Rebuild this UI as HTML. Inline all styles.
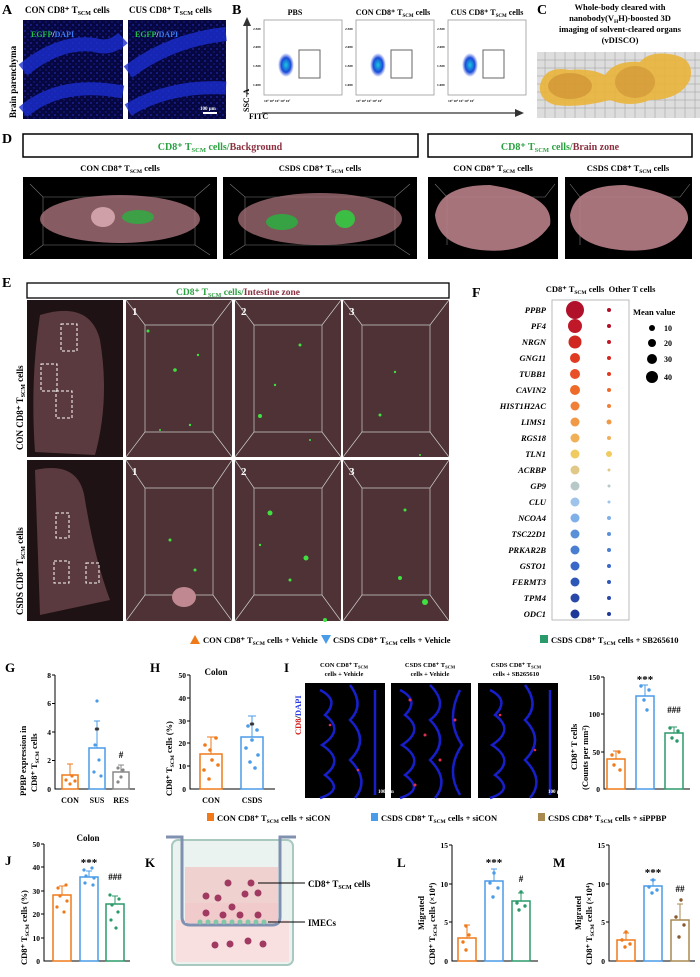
<!DOCTYPE html>
<html><head><meta charset="utf-8"><style>
html,body{margin:0;padding:0;background:#fff}
svg{display:block}
text{font-family:"Liberation Serif",serif;font-weight:bold}
</style></head><body>
<svg width="700" height="977" viewBox="0 0 700 977" xmlns="http://www.w3.org/2000/svg">
<defs>
<radialGradient id="blob" cx="50%" cy="50%" r="50%"><stop offset="0" stop-color="#19c8e0"/><stop offset="0.6" stop-color="#1a4ad8"/><stop offset="1" stop-color="#3050e0" stop-opacity="0"/></radialGradient>
<pattern id="spk" width="6" height="6" patternUnits="userSpaceOnUse"><circle cx="1" cy="1" r="0.7" fill="#2a3ad8"/><circle cx="4" cy="4" r="0.6" fill="#2030c0"/></pattern>
</defs>
<!-- A -->
<text x="2" y="14" font-size="14">A</text>
<text x="25" y="13" font-size="9">CON CD8⁺ T<tspan font-size="6" dy="2">SCM</tspan><tspan dy="-2"> cells</tspan></text>
<text x="129" y="13" font-size="9">CUS CD8⁺ T<tspan font-size="6" dy="2">SCM</tspan><tspan dy="-2"> cells</tspan></text>
<text transform="translate(16,118) rotate(-90)" font-size="9">Brain parenchyma</text>
<rect x="23" y="20" width="100" height="99" fill="#060640"/>
<rect x="128" y="20" width="98" height="99" fill="#060640"/>
<rect x="23" y="20" width="100" height="99" fill="url(#spk)"/>
<rect x="128" y="20" width="98" height="99" fill="url(#spk)"/>
<path d="M23,70 Q60,40 95,45 Q110,50 123,38" stroke="#1a2ed0" stroke-width="14" fill="none" opacity="0.8"/>
<path d="M23,112 Q60,80 123,92" stroke="#1a2ed0" stroke-width="13" fill="none" opacity="0.8"/>
<path d="M128,72 Q170,40 226,34" stroke="#1a2ed0" stroke-width="14" fill="none" opacity="0.8"/>
<path d="M128,110 Q170,85 226,88" stroke="#1a2ed0" stroke-width="13" fill="none" opacity="0.8"/>
<text x="31" y="37" font-size="8" font-weight="normal" fill="#22c04a">EGFP<tspan fill="#fff">/</tspan><tspan fill="#3a7af0">DAPI</tspan></text>
<text x="135" y="37" font-size="8" font-weight="normal" fill="#22c04a">EGFP<tspan fill="#fff">/</tspan><tspan fill="#3a7af0">DAPI</tspan></text>
<text x="200" y="110" font-size="5" fill="#fff">100 μm</text>
<rect x="203" y="112" width="14" height="2" fill="#fff"/>
<!-- B -->
<text x="232" y="14" font-size="14">B</text>
<line x1="247" y1="95" x2="247" y2="22" stroke="#333" stroke-width="1.3"/>
<path d="M243,26 L247,17 L251,26 Z" fill="#333"/>
<line x1="262" y1="113" x2="518" y2="113" stroke="#333" stroke-width="1.3"/>
<path d="M515,109 L524,113 L515,117 Z" fill="#333"/>
<text transform="translate(249,112) rotate(-90)" font-size="8">SSC-A</text>
<text x="249" y="119" font-size="8">FITC</text>
<g font-size="8">
<text x="295" y="15" text-anchor="middle">PBS</text>
<text x="393" y="15" text-anchor="middle">CON CD8⁺ T<tspan font-size="5" dy="2">SCM</tspan><tspan dy="-2"> cells</tspan></text>
<text x="487" y="15" text-anchor="middle">CUS CD8⁺ T<tspan font-size="5" dy="2">SCM</tspan><tspan dy="-2"> cells</tspan></text>
</g>
<g id="fc">
<rect x="264" y="20" width="78" height="75" fill="#fff" stroke="#999" stroke-width="0.8"/>
<ellipse cx="286" cy="65" rx="8" ry="12" fill="url(#blob)"/>
<rect x="299" y="50" width="21" height="28" fill="none" stroke="#666" stroke-width="1"/>
<text x="264" y="102" font-size="3.5" font-weight="normal">10³  10⁴     10⁵      10⁶      10⁷</text>
</g>
<use href="#fc" x="92"/><use href="#fc" x="184"/>
<g font-size="3.5" font-weight="normal">
<text x="253" y="30">2.5M</text><text x="253" y="48">2.0M</text><text x="253" y="67">1.5M</text><text x="253" y="86">1.0M</text>
<text x="345" y="30">2.5M</text><text x="345" y="48">2.0M</text><text x="345" y="67">1.5M</text><text x="345" y="86">1.0M</text>
<text x="437" y="30">2.5M</text><text x="437" y="48">2.0M</text><text x="437" y="67">1.5M</text><text x="437" y="86">1.0M</text>
</g>
<!-- C -->
<text x="537" y="14" font-size="14">C</text>
<g font-size="8.5" text-anchor="middle">
<text x="620" y="10">Whole-body cleared with</text>
<text x="620" y="21">nanobody(V<tspan font-size="5.5" dy="2">H</tspan><tspan dy="-2">H)-boosted 3D</tspan></text>
<text x="620" y="32">imaging of solvent-cleared organs</text>
<text x="620" y="43">(vDISCO)</text>
</g>
<rect x="537" y="52" width="163" height="66" fill="#ddd"/>
<g stroke="#555" stroke-width="0.4" opacity="0.6">
<path d="M537,60H700M537,68H700M537,76H700M537,84H700M537,92H700M537,100H700M537,108H700M545,52V118M555,52V118M565,52V118M575,52V118M585,52V118M595,52V118M605,52V118M615,52V118M625,52V118M635,52V118M645,52V118M655,52V118M665,52V118M675,52V118M685,52V118M695,52V118"/>
</g>
<path d="M540,85 Q545,65 570,70 Q590,68 605,75 Q615,60 640,62 Q650,50 675,55 Q695,60 690,80 Q680,100 650,100 Q630,108 610,100 Q580,108 555,105 Q538,100 540,85 Z" fill="#e9b43a" opacity="0.9"/>
<ellipse cx="570" cy="86" rx="22" ry="13" fill="#c98a30" opacity="0.6"/>
<ellipse cx="635" cy="82" rx="20" ry="16" fill="#c98a30" opacity="0.5"/>
<!-- D -->
<text x="2" y="143" font-size="14">D</text>
<rect x="23" y="134" width="395" height="23" fill="#fff" stroke="#000" stroke-width="1.5"/>
<rect x="428" y="134" width="264" height="23" fill="#fff" stroke="#000" stroke-width="1.5"/>
<text x="220" y="150" font-size="10" text-anchor="middle" fill="#2aa040">CD8⁺ T<tspan font-size="6.5" dy="2">SCM</tspan><tspan dy="-2"> cells/</tspan><tspan fill="#8a3040">Background</tspan></text>
<text x="560" y="150" font-size="10" text-anchor="middle" fill="#2aa040">CD8⁺ T<tspan font-size="6.5" dy="2">SCM</tspan><tspan dy="-2"> cells/</tspan><tspan fill="#8a3040">Brain zone</tspan></text>
<g font-size="8.5" text-anchor="middle">
<text x="120" y="171">CON CD8⁺ T<tspan font-size="5.5" dy="2">SCM</tspan><tspan dy="-2"> cells</tspan></text>
<text x="320" y="171">CSDS CD8⁺ T<tspan font-size="5.5" dy="2">SCM</tspan><tspan dy="-2"> cells</tspan></text>
<text x="493" y="171">CON CD8⁺ T<tspan font-size="5.5" dy="2">SCM</tspan><tspan dy="-2"> cells</tspan></text>
<text x="628" y="171">CSDS CD8⁺ T<tspan font-size="5.5" dy="2">SCM</tspan><tspan dy="-2"> cells</tspan></text>
</g>
<rect x="23" y="177" width="194" height="82" fill="#000"/>
<rect x="223" y="177" width="194" height="82" fill="#000"/>
<rect x="428" y="177" width="130" height="82" fill="#000"/>
<rect x="565" y="177" width="127" height="82" fill="#000"/>
<g stroke="#777" stroke-width="0.6" fill="none">
<path d="M30,184 L43,197 H195 L210,184 M43,197 V245 H195 V197 M43,245 L30,255 M195,245 L210,255"/>
<path d="M230,184 L245,197 H395 L410,184 M245,197 V245 H395 V197 M245,245 L230,255 M395,245 L410,255"/>
<path d="M435,184 L447,197 H545 L555,184 M447,197 V245"/>
<path d="M570,184 L580,197 H680 L690,184 M580,197 V245"/>
</g>
<ellipse cx="120" cy="219" rx="80" ry="24" fill="#a8727a" opacity="0.8"/>
<ellipse cx="320" cy="219" rx="82" ry="26" fill="#a8727a" opacity="0.75"/>
<ellipse cx="103" cy="217" rx="12" ry="10" fill="#d0a0a8"/>
<ellipse cx="138" cy="217" rx="16" ry="7" fill="#2ab040" opacity="0.8"/>
<ellipse cx="282" cy="222" rx="16" ry="8" fill="#2ab040" opacity="0.85"/>
<ellipse cx="345" cy="219" rx="10" ry="9" fill="#30d040" opacity="0.85"/>
<path d="M435,215 Q440,185 490,185 Q555,195 550,225 Q530,255 480,250 Q438,245 435,215 Z" fill="#b88088" opacity="0.9"/>
<path d="M570,215 Q575,185 625,185 Q690,195 688,220 Q675,255 620,250 Q572,245 570,215 Z" fill="#b88088" opacity="0.9"/>
<!-- E -->
<text x="2" y="287" font-size="14">E</text>
<rect x="27" y="283" width="422" height="15" fill="#fff" stroke="#000" stroke-width="1.3"/>
<text x="238" y="295" font-size="9.5" text-anchor="middle" fill="#2aa040">CD8⁺ T<tspan font-size="6" dy="2">SCM</tspan><tspan dy="-2"> cells/</tspan><tspan fill="#8a3040">Intestine zone</tspan></text>
<g fill="#4e3236">
<rect x="27" y="300" width="96" height="157" fill="#1e1214"/>
<rect x="126" y="300" width="106" height="157"/>
<rect x="235" y="300" width="106" height="157"/>
<rect x="343" y="300" width="106" height="157"/>
<rect x="27" y="460" width="96" height="161" fill="#1e1214"/>
<rect x="126" y="460" width="106" height="161"/>
<rect x="235" y="460" width="106" height="161"/>
<rect x="343" y="460" width="106" height="161"/>
</g>
<path d="M40,315 Q90,300 100,340 Q110,400 95,455 L35,452 Q30,380 40,315 Z" fill="#5a3a3e"/>
<path d="M35,470 Q80,460 85,500 Q95,560 110,600 L40,615 Z" fill="#5a3a3e"/>
<g stroke="#ccc" stroke-width="0.7" fill="none">
<path d="M126,300 L145,325 H213 L232,300 M145,325 V432 H213 V325 M145,432 L126,457 M213,432 L232,457"/>
<path d="M235,300 L254,325 H322 L341,300 M254,325 V432 H322 V325 M254,432 L235,457 M322,432 L341,457"/>
<path d="M343,300 L362,325 H430 L449,300 M362,325 V432 H430 V325 M362,432 L343,457 M430,432 L449,457"/>
<path d="M126,460 L145,488 H213 L232,460 M145,488 V595 H213 V488 M145,595 L126,621 M213,595 L232,621"/>
<path d="M235,460 L254,488 H322 L341,460 M254,488 V595 H322 V488 M254,595 L235,621 M322,595 L341,621"/>
<path d="M343,460 L362,488 H430 L449,460 M362,488 V595 H430 V488 M362,595 L343,621 M430,595 L449,621"/>
</g>
<g stroke="#fff" stroke-width="1" stroke-dasharray="3,2" fill="none">
<rect x="61" y="324" width="16" height="27"/><rect x="41" y="364" width="16" height="27"/><rect x="56" y="391" width="16" height="27"/>
<rect x="56" y="513" width="13" height="25"/><rect x="54" y="561" width="15" height="22"/><rect x="86" y="563" width="13" height="20"/>
</g>
<ellipse cx="184" cy="597" rx="12" ry="10" fill="#c08890"/>
<g fill="#40e040">
<circle cx="148" cy="331" r="1.5"/><circle cx="175" cy="370" r="1.8"/><circle cx="160" cy="430" r="1"/><circle cx="260" cy="416" r="2"/><circle cx="300" cy="345" r="1.5"/><circle cx="310" cy="440" r="1"/><circle cx="380" cy="415" r="1.5"/><circle cx="420" cy="455" r="1"/><circle cx="198" cy="355" r="1.2"/><circle cx="190" cy="425" r="1.2"/><circle cx="275" cy="385" r="1.2"/><circle cx="395" cy="372" r="1.2"/>
<circle cx="170" cy="540" r="1.5"/><circle cx="195" cy="570" r="1.5"/><circle cx="270" cy="513" r="2.5"/><circle cx="306" cy="558" r="2.5"/><circle cx="325" cy="620" r="2"/><circle cx="400" cy="578" r="2"/><circle cx="425" cy="602" r="3"/><circle cx="290" cy="580" r="1.5"/><circle cx="260" cy="545" r="1.2"/><circle cx="405" cy="510" r="1.5"/>
</g>
<g font-size="11" fill="#fff"><text x="132" y="315">1</text><text x="241" y="315">2</text><text x="349" y="315">3</text><text x="132" y="475">1</text><text x="241" y="475">2</text><text x="349" y="475">3</text></g>
<text transform="translate(23,450) rotate(-90)" font-size="9">CON CD8⁺ T<tspan font-size="6" dy="2">SCM</tspan><tspan dy="-2"> cells</tspan></text>
<text transform="translate(23,615) rotate(-90)" font-size="9">CSDS CD8⁺ T<tspan font-size="6" dy="2">SCM</tspan><tspan dy="-2"> cells</tspan></text>
<!-- F -->
<text x="472" y="297" font-size="14">F</text>
<text x="575" y="292" font-size="8.5" text-anchor="middle">CD8⁺ T<tspan font-size="5.5" dy="2">SCM</tspan><tspan dy="-2"> cells</tspan></text>
<text x="632" y="292" font-size="8.5" text-anchor="middle">Other T cells</text>
<rect x="552" y="300" width="77" height="320" fill="#fff" stroke="#aaa" stroke-width="0.8"/>
<g font-size="8.5" font-style="italic" text-anchor="end">
<text x="546" y="313">PPBP</text><text x="546" y="329">PF4</text><text x="546" y="345">NRGN</text><text x="546" y="361">GNG11</text><text x="546" y="377">TUBB1</text><text x="546" y="393">CAVIN2</text><text x="546" y="409">HIST1H2AC</text><text x="546" y="425">LIMS1</text><text x="546" y="441">RGS18</text><text x="546" y="457">TLN1</text><text x="546" y="473">ACRBP</text><text x="546" y="489">GP9</text><text x="546" y="505">CLU</text><text x="546" y="521">NCOA4</text><text x="546" y="537">TSC22D1</text><text x="546" y="553">PRKAR2B</text><text x="546" y="569">GSTO1</text><text x="546" y="585">FERMT3</text><text x="546" y="601">TPM4</text><text x="546" y="617">ODC1</text>
</g>
<g>
<circle cx="575" cy="310" r="9" fill="#b0102a"/><circle cx="575" cy="326" r="7" fill="#c01828"/><circle cx="575" cy="342" r="6.5" fill="#d02820"/><circle cx="575" cy="358" r="5" fill="#e03a20"/><circle cx="575" cy="374" r="5" fill="#e85028"/><circle cx="575" cy="390" r="5" fill="#ee6a28"/><circle cx="575" cy="406" r="4.5" fill="#f08038"/><circle cx="575" cy="422" r="4.5" fill="#f09a48"/><circle cx="575" cy="438" r="4.5" fill="#f0b058"/><circle cx="575" cy="454" r="4.5" fill="#f0cc60"/><circle cx="575" cy="470" r="4.5" fill="#e0c888"/><circle cx="575" cy="486" r="4.5" fill="#b8c8c8"/><circle cx="575" cy="502" r="4.5" fill="#9ec4ec"/><circle cx="575" cy="518" r="4.5" fill="#80b0e8"/><circle cx="575" cy="534" r="4.5" fill="#5a90d8"/><circle cx="575" cy="550" r="4.5" fill="#4a7ed0"/><circle cx="575" cy="566" r="4.5" fill="#3a68c8"/><circle cx="575" cy="582" r="4.5" fill="#2e58b8"/><circle cx="575" cy="598" r="4.5" fill="#2a48a8"/><circle cx="575" cy="614" r="4.5" fill="#1e3a98"/>
</g>
<g>
<circle cx="609" cy="326" r="2" fill="#b0102a"/><circle cx="609" cy="342" r="2" fill="#c01828"/><circle cx="609" cy="358" r="2" fill="#d02820"/><circle cx="609" cy="374" r="2" fill="#e03a20"/><circle cx="609" cy="390" r="2" fill="#ee6a28"/><circle cx="609" cy="406" r="2" fill="#f08038"/><circle cx="609" cy="422" r="2.5" fill="#f09a48"/><circle cx="609" cy="438" r="2" fill="#f0b058"/><circle cx="609" cy="454" r="3" fill="#f0cc60"/><circle cx="609" cy="470" r="1.5" fill="#e0c888"/><circle cx="609" cy="486" r="1.5" fill="#b8c8c8"/><circle cx="609" cy="502" r="1.5" fill="#9ec4ec"/><circle cx="609" cy="518" r="2" fill="#80b0e8"/><circle cx="609" cy="534" r="2" fill="#5a90d8"/><circle cx="609" cy="550" r="2" fill="#4a7ed0"/><circle cx="609" cy="566" r="2" fill="#3a68c8"/><circle cx="609" cy="582" r="2" fill="#2e58b8"/><circle cx="609" cy="598" r="2" fill="#2a48a8"/><circle cx="609" cy="614" r="2" fill="#1e3a98"/><circle cx="609" cy="310" r="2" fill="#b0102a"/>
</g>
<text x="633" y="315" font-size="8.5">Mean value</text>
<g><circle cx="652" cy="328" r="3" fill="#000"/><circle cx="652" cy="343" r="4" fill="#000"/><circle cx="652" cy="359" r="5" fill="#000"/><circle cx="652" cy="377" r="6" fill="#000"/></g>
<g font-size="8"><text x="664" y="331">10</text><text x="664" y="346">20</text><text x="664" y="362">30</text><text x="664" y="380">40</text></g>
<!-- legend 1 -->
<path d="M190,644 L195,635 L200,644 Z" fill="#f07a1a"/>
<text x="203" y="643" font-size="8.5">CON CD8⁺ T<tspan font-size="5.5" dy="2">SCM</tspan><tspan dy="-2"> cells + Vehicle</tspan></text>
<path d="M321,635 L331,635 L326,644 Z" fill="#4a9be8"/>
<text x="333" y="643" font-size="8.5">CSDS CD8⁺ T<tspan font-size="5.5" dy="2">SCM</tspan><tspan dy="-2"> cells + Vehicle</tspan></text>
<rect x="540" y="635" width="8" height="8" fill="#2a9a6a"/>
<text x="551" y="643" font-size="8.5">CSDS CD8⁺ T<tspan font-size="5.5" dy="2">SCM</tspan><tspan dy="-2"> cells + SB265610</tspan></text>
<!-- G -->
<text x="5" y="672" font-size="13">G</text>
<g stroke="#000" stroke-width="1" fill="none"><path d="M55,675 V789 H135 M52,675H55 M52,703.5H55 M52,732H55 M52,760.5H55"/></g>
<g font-size="7.5" text-anchor="end"><text x="51" y="678">8</text><text x="51" y="706">6</text><text x="51" y="735">4</text><text x="51" y="763">2</text><text x="51" y="792">0</text></g>
<text transform="translate(26,796) rotate(-90)" font-size="8.5">PPBP expression in</text>
<text transform="translate(37,792) rotate(-90)" font-size="8.5">CD8⁺ T<tspan font-size="5.5" dy="2">SCM</tspan><tspan dy="-2"> cells</tspan></text>
<rect x="62" y="775" width="16" height="14" fill="none" stroke="#f07a1a" stroke-width="1.5"/>
<rect x="89" y="748" width="16" height="41" fill="none" stroke="#4a9be8" stroke-width="1.5"/>
<rect x="113" y="772" width="16" height="17" fill="none" stroke="#888" stroke-width="1.5"/>
<g stroke-width="1" fill="none"><path d="M70,775V764M67,764H73" stroke="#f07a1a"/><path d="M97,748V721M94,721H100" stroke="#4a9be8"/><path d="M121,772V765M118,765H124" stroke="#888"/></g>
<g fill="#f07a1a"><circle cx="66" cy="780" r="1.6"/><circle cx="72" cy="776" r="1.6"/><circle cx="70" cy="784" r="1.6"/><circle cx="75" cy="781" r="1.6"/></g>
<g fill="#4a9be8"><circle cx="97" cy="701" r="1.6"/><circle cx="95" cy="745" r="1.6"/><circle cx="99" cy="760" r="1.6"/><circle cx="94" cy="772" r="1.6"/><circle cx="101" cy="776" r="1.6"/></g>
<g fill="#888"><circle cx="118" cy="768" r="1.6"/><circle cx="123" cy="770" r="1.6"/><circle cx="121" cy="777" r="1.6"/><circle cx="118" cy="782" r="1.6"/></g>
<g font-size="11" text-anchor="middle"><text x="97" y="734">*</text><text x="121" y="758" font-size="9">#</text></g>
<g font-size="8" text-anchor="middle"><text x="70" y="803">CON</text><text x="97" y="803">SUS</text><text x="121" y="803">RES</text></g>
<!-- H -->
<text x="150" y="672" font-size="13">H</text>
<text x="216" y="675" font-size="9" text-anchor="middle">Colon</text>
<g stroke="#000" stroke-width="1" fill="none"><path d="M190,675 V789 H275 M187,675H190 M187,698H190 M187,721H190 M187,743H190 M187,766H190"/></g>
<g font-size="7.5" text-anchor="end"><text x="186" y="678">50</text><text x="186" y="701">40</text><text x="186" y="724">30</text><text x="186" y="746">20</text><text x="186" y="769">10</text><text x="186" y="792">0</text></g>
<text transform="translate(172,796) rotate(-90)" font-size="8.5">CD8⁺ T<tspan font-size="5.5" dy="2">SCM</tspan><tspan dy="-2"> cells (%)</tspan></text>
<rect x="200" y="754" width="22" height="35" fill="none" stroke="#f07a1a" stroke-width="1.5"/>
<rect x="241" y="737" width="22" height="52" fill="none" stroke="#4a9be8" stroke-width="1.5"/>
<g stroke-width="1" fill="none"><path d="M211,754V737M207,737H215" stroke="#f07a1a"/><path d="M252,737V716M248,716H256" stroke="#4a9be8"/></g>
<g fill="#f07a1a"><circle cx="205" cy="745" r="1.8"/><circle cx="216" cy="738" r="1.8"/><circle cx="210" cy="750" r="1.8"/><circle cx="212" cy="760" r="1.8"/><circle cx="204" cy="770" r="1.8"/><circle cx="218" cy="765" r="1.8"/><circle cx="209" cy="779" r="1.8"/></g>
<g fill="#4a9be8"><circle cx="248" cy="726" r="1.8"/><circle cx="257" cy="730" r="1.8"/><circle cx="252" cy="740" r="1.8"/><circle cx="246" cy="748" r="1.8"/><circle cx="258" cy="755" r="1.8"/><circle cx="250" cy="762" r="1.8"/><circle cx="255" cy="768" r="1.8"/></g>
<text x="252" y="729" font-size="11" text-anchor="middle">*</text>
<g font-size="8" text-anchor="middle"><text x="211" y="803">CON</text><text x="252" y="803">CSDS</text></g>
<!-- I -->
<text x="284" y="672" font-size="13">I</text>
<g font-size="6.5" text-anchor="middle">
<text x="344" y="667">CON CD8⁺ T<tspan font-size="4.5" dy="1.5">SCM</tspan></text><text x="344" y="676">cells + Vehicle</text>
<text x="430" y="667">CSDS CD8⁺ T<tspan font-size="4.5" dy="1.5">SCM</tspan></text><text x="430" y="676">cells + Vehicle</text>
<text x="516" y="667">CSDS CD8⁺ T<tspan font-size="4.5" dy="1.5">SCM</tspan></text><text x="516" y="676">cells + SB265610</text>
</g>
<rect x="305" y="683" width="80" height="115" fill="#000"/>
<rect x="391" y="683" width="80" height="115" fill="#000"/>
<rect x="478" y="683" width="80" height="115" fill="#000"/>
<g stroke="#1a22e0" stroke-width="2.5" fill="none" opacity="0.9">
<path d="M320,690 Q340,700 325,715 Q345,730 322,745 Q345,760 325,775 Q345,790 320,798 M350,685 Q365,705 350,720 Q370,740 350,760 Q370,780 355,798 M375,690 V795"/>
<path d="M400,690 Q420,700 405,715 Q425,730 402,745 Q425,760 405,775 Q425,790 400,798 M430,685 Q450,705 430,720 Q450,740 430,760 Q450,780 435,798 M460,690 Q445,720 462,745 Q445,770 460,795"/>
<path d="M490,690 Q510,700 495,715 Q515,730 492,745 Q515,760 495,775 Q515,790 490,798 M525,685 Q540,705 525,720 Q545,740 525,760 Q545,780 530,798 M550,690 V795"/>
</g>
<g fill="#e03050"><circle cx="330" cy="725" r="1.3"/><circle cx="358" cy="770" r="1.3"/><circle cx="410" cy="700" r="1.5"/><circle cx="425" cy="735" r="1.5"/><circle cx="440" cy="760" r="1.5"/><circle cx="415" cy="785" r="1.5"/><circle cx="455" cy="720" r="1.5"/><circle cx="500" cy="715" r="1.3"/><circle cx="535" cy="750" r="1.3"/></g>
<text x="378" y="793" font-size="5" fill="#fff">100 μm</text>
<text x="548" y="793" font-size="5" fill="#fff">100 μm</text>
<text transform="translate(301,735) rotate(-90)" font-size="8.5" fill="#d02020">CD8<tspan fill="#000">/</tspan><tspan fill="#2a3ae0">DAPI</tspan></text>
<g stroke="#000" stroke-width="1" fill="none"><path d="M604,677 V789 H690 M601,677H604 M601,714H604 M601,752H604"/></g>
<g font-size="7.5" text-anchor="end"><text x="600" y="680">150</text><text x="600" y="717">100</text><text x="600" y="755">50</text><text x="600" y="792">0</text></g>
<text transform="translate(577,770) rotate(-90)" font-size="8.5">CD8⁺ T cells</text>
<text transform="translate(588,790) rotate(-90)" font-size="8.5">(Counts per mm²)</text>
<rect x="607" y="759" width="18" height="30" fill="none" stroke="#f07a1a" stroke-width="1.5"/>
<rect x="636" y="696" width="18" height="93" fill="none" stroke="#4a9be8" stroke-width="1.5"/>
<rect x="665" y="733" width="18" height="56" fill="none" stroke="#2a9a6a" stroke-width="1.5"/>
<g stroke-width="1" fill="none"><path d="M616,759V751M613,751H619" stroke="#f07a1a"/><path d="M645,696V685M642,685H648" stroke="#4a9be8"/><path d="M674,733V727M671,727H677" stroke="#2a9a6a"/></g>
<g fill="#f07a1a"><circle cx="612" cy="755" r="1.7"/><circle cx="619" cy="752" r="1.7"/><circle cx="614" cy="765" r="1.7"/><circle cx="620" cy="770" r="1.7"/></g>
<g fill="#4a9be8"><circle cx="641" cy="686" r="1.7"/><circle cx="649" cy="690" r="1.7"/><circle cx="644" cy="700" r="1.7"/><circle cx="647" cy="710" r="1.7"/></g>
<g fill="#2a9a6a"><circle cx="670" cy="728" r="1.7"/><circle cx="678" cy="731" r="1.7"/><circle cx="672" cy="738" r="1.7"/><circle cx="677" cy="741" r="1.7"/></g>
<g font-size="11" text-anchor="middle"><text x="645" y="683">***</text><text x="674" y="713" font-size="9">###</text></g>
<!-- legend 2 -->
<rect x="207" y="813" width="7" height="8" fill="#f07a1a"/>
<text x="217" y="821" font-size="8.5">CON CD8⁺ T<tspan font-size="5.5" dy="2">SCM</tspan><tspan dy="-2"> cells + siCON</tspan></text>
<rect x="371" y="813" width="7" height="8" fill="#4a9be8"/>
<text x="381" y="821" font-size="8.5">CSDS CD8⁺ T<tspan font-size="5.5" dy="2">SCM</tspan><tspan dy="-2"> cells + siCON</tspan></text>
<rect x="538" y="813" width="7" height="8" fill="#a88a50"/>
<text x="548" y="821" font-size="8.5">CSDS CD8⁺ T<tspan font-size="5.5" dy="2">SCM</tspan><tspan dy="-2"> cells + siPPBP</tspan></text>
<!-- J -->
<text x="5" y="865" font-size="13">J</text>
<text x="88" y="841" font-size="9" text-anchor="middle">Colon</text>
<g stroke="#000" stroke-width="1" fill="none"><path d="M44,844 V961 H130 M41,844H44 M41,867H44 M41,891H44 M41,914H44 M41,938H44"/></g>
<g font-size="7.5" text-anchor="end"><text x="40" y="847">50</text><text x="40" y="870">40</text><text x="40" y="894">30</text><text x="40" y="917">20</text><text x="40" y="941">10</text><text x="40" y="964">0</text></g>
<text transform="translate(27,965) rotate(-90)" font-size="8.5">CD8⁺ T<tspan font-size="5.5" dy="2">SCM</tspan><tspan dy="-2"> cells (%)</tspan></text>
<rect x="53" y="895" width="18" height="66" fill="none" stroke="#f07a1a" stroke-width="1.5"/>
<rect x="80" y="877" width="18" height="84" fill="none" stroke="#4a9be8" stroke-width="1.5"/>
<rect x="106" y="904" width="18" height="57" fill="none" stroke="#2a9a6a" stroke-width="1.5"/>
<g stroke-width="1" fill="none"><path d="M62,895V886M59,886H65" stroke="#f07a1a"/><path d="M89,877V871M86,871H92" stroke="#4a9be8"/><path d="M115,904V896M112,896H118" stroke="#2a9a6a"/></g>
<g fill="#f07a1a"><circle cx="58" cy="888" r="1.6"/><circle cx="66" cy="885" r="1.6"/><circle cx="60" cy="896" r="1.6"/><circle cx="67" cy="901" r="1.6"/><circle cx="57" cy="907" r="1.6"/><circle cx="64" cy="912" r="1.6"/></g>
<g fill="#4a9be8"><circle cx="84" cy="870" r="1.6"/><circle cx="92" cy="868" r="1.6"/><circle cx="86" cy="876" r="1.6"/><circle cx="94" cy="878" r="1.6"/><circle cx="85" cy="883" r="1.6"/><circle cx="93" cy="885" r="1.6"/></g>
<g fill="#2a9a6a"><circle cx="110" cy="895" r="1.6"/><circle cx="119" cy="899" r="1.6"/><circle cx="112" cy="905" r="1.6"/><circle cx="118" cy="912" r="1.6"/><circle cx="111" cy="920" r="1.6"/><circle cx="116" cy="928" r="1.6"/></g>
<g font-size="11" text-anchor="middle"><text x="89" y="866">***</text><text x="115" y="880" font-size="9">###</text></g>
<!-- K -->
<text x="145" y="867" font-size="13">K</text>
<rect x="172" y="840" width="121" height="125" rx="6" fill="#eaf3f0" stroke="#a8c8c0" stroke-width="2"/>
<rect x="176" y="920" width="113" height="42" fill="#f8e0e0"/>
<path d="M166,837 H182 V917 Q182,925 190,925 H272 Q280,925 280,917 V837 H296" fill="none" stroke="#8090b0" stroke-width="3"/>
<rect x="185" y="903" width="93" height="20" fill="#f4d4d4"/>
<rect x="185" y="867" width="93" height="56" fill="#f0c8c8" opacity="0.8"/>
<g fill="#a03a60"><circle cx="228" cy="883" r="3.5"/><circle cx="251" cy="883" r="3.5"/><circle cx="206" cy="896" r="3.5"/><circle cx="218" cy="898" r="3.5"/><circle cx="245" cy="894" r="3.5"/><circle cx="258" cy="893" r="3.5"/><circle cx="232" cy="907" r="3.5"/><circle cx="206" cy="913" r="3.5"/><circle cx="223" cy="915" r="3.5"/><circle cx="240" cy="915" r="3.5"/><circle cx="258" cy="915" r="3.5"/><circle cx="215" cy="945" r="3.5"/><circle cx="230" cy="944" r="3.5"/><circle cx="248" cy="941" r="3.5"/><circle cx="263" cy="944" r="3.5"/></g>
<g fill="#80c8a8"><circle cx="200" cy="922" r="2.5"/><circle cx="208" cy="922" r="2.5"/><circle cx="216" cy="922" r="2.5"/><circle cx="224" cy="922" r="2.5"/><circle cx="232" cy="922" r="2.5"/><circle cx="240" cy="922" r="2.5"/><circle cx="248" cy="922" r="2.5"/><circle cx="256" cy="922" r="2.5"/><circle cx="264" cy="922" r="2.5"/></g>
<g stroke="#000" stroke-width="1"><line x1="258" y1="883" x2="305" y2="883"/><line x1="268" y1="922" x2="305" y2="922"/></g>
<text x="308" y="887" font-size="9">CD8⁺ T<tspan font-size="6" dy="2">SCM</tspan><tspan dy="-2"> cells</tspan></text>
<text x="308" y="926" font-size="9">IMECs</text>
<!-- L -->
<text x="397" y="867" font-size="13">L</text>
<g stroke="#000" stroke-width="1" fill="none"><path d="M452,845 V961 H538 M449,845H452 M449,884H452 M449,922H452"/></g>
<g font-size="7.5" text-anchor="end"><text x="448" y="848">15</text><text x="448" y="887">10</text><text x="448" y="925">5</text><text x="448" y="964">0</text></g>
<text transform="translate(424,930) rotate(-90)" font-size="8.5">Migrated</text>
<text transform="translate(435,965) rotate(-90)" font-size="8.5">CD8⁺ T<tspan font-size="5.5" dy="2">SCM</tspan><tspan dy="-2"> cells (×10⁴)</tspan></text>
<rect x="458" y="938" width="18" height="23" fill="none" stroke="#f07a1a" stroke-width="1.5"/>
<rect x="485" y="881" width="18" height="80" fill="none" stroke="#4a9be8" stroke-width="1.5"/>
<rect x="512" y="901" width="18" height="60" fill="none" stroke="#2a9a6a" stroke-width="1.5"/>
<g stroke-width="1" fill="none"><path d="M467,938V925M464,925H470" stroke="#f07a1a"/><path d="M494,881V869M491,869H497" stroke="#4a9be8"/><path d="M521,901V893M518,893H524" stroke="#2a9a6a"/></g>
<g fill="#f07a1a"><circle cx="466" cy="926" r="1.7"/><circle cx="469" cy="935" r="1.7"/><circle cx="463" cy="942" r="1.7"/><circle cx="466" cy="950" r="1.7"/></g>
<g fill="#4a9be8"><circle cx="494" cy="873" r="1.7"/><circle cx="490" cy="883" r="1.7"/><circle cx="498" cy="888" r="1.7"/><circle cx="493" cy="897" r="1.7"/></g>
<g fill="#2a9a6a"><circle cx="521" cy="892" r="1.7"/><circle cx="517" cy="903" r="1.7"/><circle cx="525" cy="906" r="1.7"/><circle cx="519" cy="910" r="1.7"/></g>
<g font-size="11" text-anchor="middle"><text x="494" y="866">***</text><text x="521" y="882" font-size="9">#</text></g>
<!-- M -->
<text x="553" y="867" font-size="13">M</text>
<g stroke="#000" stroke-width="1" fill="none"><path d="M609,845 V961 H695 M606,845H609 M606,884H609 M606,922H609"/></g>
<g font-size="7.5" text-anchor="end"><text x="605" y="848">15</text><text x="605" y="887">10</text><text x="605" y="925">5</text><text x="605" y="964">0</text></g>
<text transform="translate(581,930) rotate(-90)" font-size="8.5">Migrated</text>
<text transform="translate(592,965) rotate(-90)" font-size="8.5">CD8⁺ T<tspan font-size="5.5" dy="2">SCM</tspan><tspan dy="-2"> cells (×10⁴)</tspan></text>
<rect x="617" y="940" width="18" height="21" fill="none" stroke="#f07a1a" stroke-width="1.5"/>
<rect x="644" y="886" width="18" height="75" fill="none" stroke="#4a9be8" stroke-width="1.5"/>
<rect x="671" y="920" width="18" height="41" fill="none" stroke="#a88a50" stroke-width="1.5"/>
<g stroke-width="1" fill="none"><path d="M626,940V933M623,933H629" stroke="#f07a1a"/><path d="M653,886V880M650,880H656" stroke="#4a9be8"/><path d="M680,920V904M677,904H683" stroke="#a88a50"/></g>
<g fill="#f07a1a"><circle cx="626" cy="932" r="1.7"/><circle cx="622" cy="940" r="1.7"/><circle cx="630" cy="944" r="1.7"/><circle cx="625" cy="947" r="1.7"/></g>
<g fill="#4a9be8"><circle cx="653" cy="880" r="1.7"/><circle cx="649" cy="887" r="1.7"/><circle cx="657" cy="890" r="1.7"/><circle cx="652" cy="893" r="1.7"/></g>
<g fill="#8a5a30"><circle cx="681" cy="900" r="1.7"/><circle cx="676" cy="917" r="1.7"/><circle cx="684" cy="925" r="1.7"/><circle cx="679" cy="937" r="1.7"/></g>
<g font-size="11" text-anchor="middle"><text x="653" y="876">***</text><text x="680" y="892" font-size="9">##</text></g>
</svg>
</body></html>
